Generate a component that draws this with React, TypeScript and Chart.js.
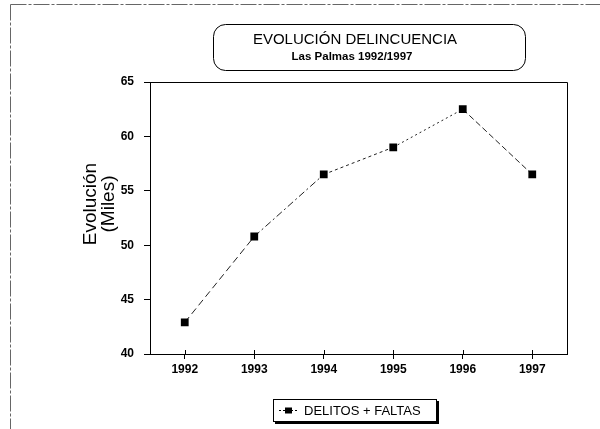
import { useEffect, useRef } from "react";
import { Chart, registerables } from "chart.js";

Chart.register(...registerables);

const years = ["1992", "1993", "1994", "1995", "1996", "1997"];
const delitosFaltas = [42.9, 50.8, 56.5, 59.0, 62.5, 56.5];
const yMin = 40;
const yMax = 65;
const yStep = 5;
const titleText = "EVOLUCIÓN DELINCUENCIA";
const subtitleText = "Las Palmas 1992/1997";
const yTitleLines = ["Evolución", "(Miles)"];
const seriesLabel = "DELITOS + FALTAS";

const FONT = "'Liberation Sans', Arial, sans-serif";
const segmentDashes = [[7, 4], [7, 3, 2, 3], [3, 3], [2, 3], [6, 3]];

const decorPlugin = {
  id: "decor",
  beforeDraw(chart: any) {
    const ctx = chart.ctx;
    ctx.save();
    ctx.fillStyle = "#fff";
    ctx.fillRect(0, 0, chart.width, chart.height);
    // scanned page frame
    ctx.strokeStyle = "#666";
    ctx.lineWidth = 1;
    ctx.setLineDash([16, 2, 3, 2]);
    ctx.beginPath();
    ctx.moveTo(10.5, 4.5);
    ctx.lineTo(chart.width, 4.5);
    ctx.moveTo(10.5, 4.5);
    ctx.lineTo(10.5, chart.height);
    ctx.stroke();
    ctx.setLineDash([]);
    ctx.restore();
  },
  afterDraw(chart: any) {
    const ctx = chart.ctx;
    const a = chart.chartArea;
    const xs = chart.scales.x;
    ctx.save();
    ctx.strokeStyle = "#000";
    ctx.lineWidth = 1;
    // plot frame top + right
    ctx.beginPath();
    ctx.moveTo(Math.round(a.left) + 0.5, Math.round(a.top) + 0.5);
    ctx.lineTo(Math.round(a.right) + 0.5, Math.round(a.top) + 0.5);
    ctx.lineTo(Math.round(a.right) + 0.5, Math.round(a.bottom) + 0.5);
    ctx.stroke();
    // x tick marks inside
    ctx.beginPath();
    for (let i = 0; i < years.length; i++) {
      const x = Math.round(xs.getPixelForValue(i)) + 0.5;
      ctx.moveTo(x, a.bottom - 4);
      ctx.lineTo(x, a.bottom);
    }
    ctx.stroke();

    // title box
    const bx = 213, by = 24, bw = 312, bh = 46, r = 12;
    ctx.beginPath();
    ctx.roundRect(bx + 0.5, by + 0.5, bw, bh, r);
    ctx.fillStyle = "#fff";
    ctx.fill();
    ctx.stroke();
    ctx.fillStyle = "#000";
    ctx.textAlign = "center";
    ctx.textBaseline = "middle";
    ctx.font = `15px ${FONT}`;
    ctx.fillText(titleText, 355, by + 16);
    ctx.font = `bold 11.5px ${FONT}`;
    ctx.fillText(subtitleText, 352, by + 33);

    // y axis title
    ctx.save();
    ctx.translate(100, (a.top + a.bottom) / 2 - 14);
    ctx.rotate(-Math.PI / 2);
    ctx.font = `19px ${FONT}`;
    ctx.fillText(yTitleLines[0], 0, -9);
    ctx.fillText(yTitleLines[1], 0, 9);
    ctx.restore();

    // legend
    const lx = 273, ly = 399, lw = 164, lh = 23;
    ctx.fillStyle = "#000";
    ctx.fillRect(lx + 2, ly + 2, lw, lh);
    ctx.fillStyle = "#fff";
    ctx.fillRect(lx, ly, lw, lh);
    ctx.strokeRect(lx + 0.5, ly + 0.5, lw - 1, lh - 1);
    ctx.setLineDash([2, 2]);
    ctx.beginPath();
    ctx.moveTo(lx + 6, ly + lh / 2);
    ctx.lineTo(lx + 25, ly + lh / 2);
    ctx.stroke();
    ctx.setLineDash([]);
    ctx.fillStyle = "#000";
    ctx.fillRect(lx + 12, ly + lh / 2 - 3, 7, 6);
    ctx.textAlign = "left";
    ctx.font = `13px ${FONT}`;
    ctx.fillText(seriesLabel, lx + 31, ly + lh / 2 + 1);
    ctx.restore();
  },
};

export default function App() {
  const ref = useRef<HTMLCanvasElement | null>(null);
  useEffect(() => {
    document.body.style.margin = "0";
    const canvas = ref.current;
    if (!canvas) return;
    const chart = new Chart(canvas, {
      type: "line",
      data: {
        labels: years,
        datasets: [
          {
            label: seriesLabel,
            data: delitosFaltas,
            borderColor: "#222",
            borderWidth: 1,
            pointStyle: "rect",
            pointRadius: 5.5,
            pointBackgroundColor: "#000",
            pointBorderColor: "#000",
            pointBorderWidth: 0,
            tension: 0,
            segment: {
              borderDash: (c: any) => segmentDashes[c.p0DataIndex],
            },
          },
        ],
      },
      options: {
        responsive: false,
        animation: false,
        devicePixelRatio: 1,
        layout: { padding: { top: 82, right: 33, bottom: 0, left: 0 } },
        plugins: {
          legend: { display: false },
          title: { display: false },
          tooltip: { enabled: false },
        },
        scales: {
          x: {
            type: "category",
            offset: true,
            afterFit: (s: any) => {
              s.height = 75;
            },
            grid: {
              display: true,
              drawOnChartArea: false,
              tickLength: 5,
              color: "#000",
            },
            border: { display: true, color: "#000", width: 1 },
            ticks: {
              color: "#000",
              padding: 3,
              maxRotation: 0,
              font: { family: FONT, size: 12, weight: "bold" },
            },
          },
          y: {
            min: yMin,
            max: yMax,
            afterFit: (s: any) => {
              s.width = 150;
            },
            grid: {
              display: true,
              drawOnChartArea: false,
              tickLength: 6,
              color: "#000",
            },
            border: { display: true, color: "#000", width: 1 },
            ticks: {
              stepSize: yStep,
              color: "#000",
              padding: 10,
              font: { family: FONT, size: 12, weight: "bold" },
            },
          },
        },
      },
      plugins: [decorPlugin],
    });
    return () => chart.destroy();
  }, []);
  return <canvas ref={ref} width={600} height={429} style={{ display: "block" }} />;
}
